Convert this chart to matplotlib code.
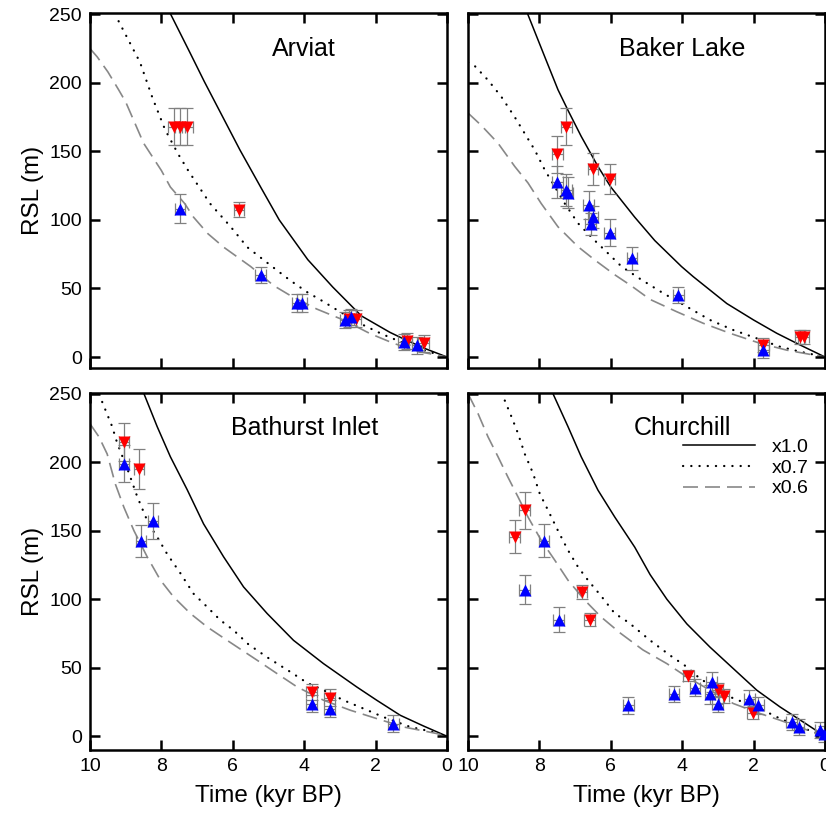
import matplotlib.pyplot as plt
import numpy as np

plt.rcParams['font.family'] = ['Liberation Sans', 'DejaVu Sans']

# ---------------- model curves: time (kyr BP), RSL (m) ----------------
# Arviat
arv_solid_t = [7.74, 7.2, 6.8, 6.3, 5.8, 5.2, 4.7, 3.9, 3.2, 2.4, 1.6, 1.2, 0.6, 0]
arv_solid_v = [250, 222, 201, 176, 151, 123, 100, 71, 51, 30, 18, 13, 6, 0]
arv_dot_t = [9.2, 8.6, 8.25, 7.9, 7.53, 7.25, 6.64, 6.06, 5.59, 4.9, 4.4, 3.9, 3.5, 3.0, 2.4, 1.8, 1.2, 0.6, 0]
arv_dot_v = [245, 215, 189, 166, 148, 136, 112, 95, 80, 66, 56, 47, 41, 33, 24, 16.5, 10, 4.5, 0]
arv_dash_t = [10, 9.8, 9.5, 9.2, 9.0, 8.7, 8.5, 8.0, 7.75, 7.35, 7.1, 6.7, 6.25, 5.5, 4.85, 4.4, 3.65, 2.9, 2.15, 1.5, 0.8, 0]
arv_dash_v = [225, 219, 208, 195, 186, 168, 156, 136, 124, 112, 102, 90, 80, 66, 52, 45, 35, 27, 17, 10, 4, 0]

# Baker Lake
bak_solid_t = [8.34, 7.85, 7.48, 7.2, 6.83, 6.36, 6.0, 5.33, 4.77, 4.02, 3.69, 2.75, 2.0, 1.35, 0.7, 0]
bak_solid_v = [251, 219, 195, 180, 161, 139, 124, 102, 85, 66, 58.6, 39, 27, 17.3, 8.8, 0]
bak_dot_t = [10, 9.8, 9.44, 9.07, 8.69, 8.41, 8.13, 7.85, 7.29, 6.92, 6.45, 6.08, 5.7, 5.18, 4.53, 3.87, 3.22, 2.57, 1.91, 1.26, 0.7, 0]
bak_dot_v = [215, 212, 202, 190, 175, 163, 151, 136.5, 112, 97.6, 85, 75.7, 66, 57, 46.5, 36.7, 27, 19.7, 13.6, 7.5, 3.9, 0]
bak_dash_t = [10, 9.63, 9.16, 8.69, 8.32, 7.95, 7.48, 6.92, 6.45, 5.89, 5.43, 4.9, 4.15, 3.41, 2.66, 1.82, 1.07, 0.33, 0]
bak_dash_v = [178, 169, 156, 139, 127, 112, 95, 80.5, 70.8, 60, 52, 42, 33, 24.6, 17.3, 10, 5, 1.5, 0]

# Bathurst Inlet
bat_solid_t = [8.49, 8.12, 7.75, 7.28, 6.82, 6.26, 5.7, 5.04, 4.3, 3.46, 2.53, 1.97, 1.31, 0.66, 0]
bat_solid_v = [250, 226, 204, 180, 155, 131, 109, 89.6, 70, 53, 36, 26.3, 15.3, 7.5, 0]
bat_dot_t = [9.66, 9.38, 9.24, 8.91, 8.68, 8.36, 8.12, 7.84, 7.47, 7.1, 6.72, 6.35, 5.98, 5.56, 5.0, 4.39, 3.92, 3.46, 2.9, 2.34, 1.78, 1.03, 0.38, 0]
bat_dot_v = [244, 226, 214, 192, 175, 155, 145.5, 133, 119, 104, 94.4, 84.7, 77.4, 67, 57, 47, 39, 33.6, 26.3, 20.2, 14, 6.8, 3.1, 0]
bat_dash_t = [10, 9.75, 9.52, 9.29, 9.05, 8.77, 8.4, 8.03, 7.66, 7.19, 6.72, 6.16, 5.32, 4.76, 4.2, 3.46, 2.71, 1.97, 1.22, 0.29, 0]
bat_dash_v = [228, 218.5, 206, 184, 167, 150, 131, 114, 101.7, 89.6, 79.8, 70, 55.5, 45.7, 36, 26.3, 19, 12.9, 6.8, 2, 0]

# Churchill
chu_solid_t = [7.62, 7.2, 6.83, 6.36, 5.89, 5.33, 4.9, 4.43, 3.87, 3.22, 2.57, 1.91, 1.26, 0.61, 0]
chu_solid_v = [250, 226, 204, 179.6, 160, 138, 118, 100, 82, 65, 49.4, 33.6, 21.4, 10.4, 0]
chu_dot_t = [8.97, 8.78, 8.6, 8.41, 8.18, 7.99, 7.76, 7.48, 7.2, 6.92, 6.64, 6.26, 5.89, 5.5, 4.9, 4.34, 3.87, 3.5, 2.66, 1.73, 1.26, 0.7, 0]
chu_dot_v = [245, 233, 221, 206, 192, 177, 165, 150, 135.8, 123.6, 113.9, 102, 89.6, 83, 70, 59, 50.6, 42, 28.7, 19, 12.9, 6.8, 0]
chu_dash_t = [10, 9.72, 9.44, 9.16, 8.88, 8.6, 8.32, 7.95, 7.57, 7.2, 6.73, 6.27, 5.72, 5.1, 4.43, 3.87, 3.22, 2.57, 1.82, 1.26, 0.61, 0]
chu_dash_v = [250, 235.5, 218.5, 204, 189, 174.7, 160, 143, 128.5, 113.9, 99.3, 87, 75, 63, 53, 43.3, 33.6, 23.9, 16.6, 11.7, 5.6, 0]

# ---------------- sea-level index points ----------------
arv_red_t = [7.66, 7.48, 7.27, 5.83, 2.75, 2.55, 1.12, 0.65]
arv_red_v = [168, 168, 168, 107.5, 28, 28, 11.5, 10]
arv_red_e = [13.5, 13.5, 13.5, 5.5, 6, 6, 6, 6]
arv_blue_t = [7.48, 5.22, 4.2, 4.06, 2.85, 2.7, 1.21, 0.84]
arv_blue_v = [108.3, 60, 39.5, 39.5, 27, 29, 11, 8.5]
arv_blue_e = [10.3, 6, 6.6, 6.6, 6, 6, 6, 6]

bak_red_t = [7.25, 7.5, 6.5, 6.03, 1.73, 0.7, 0.6]
bak_red_v = [168, 148, 137, 129.7, 8.8, 14.4, 14.4]
bak_red_e = [13.4, 13.4, 11.6, 11, 5, 5, 5]
bak_blue_t = [7.5, 7.25, 7.2, 6.62, 6.5, 6.56, 6.03, 5.41, 4.11, 1.73]
bak_blue_v = [127.5, 122, 120, 111, 102, 97, 90.7, 72, 45.3, 5]
bak_blue_e = [11.6, 11.6, 11.6, 10, 8, 8, 9.7, 8.5, 6, 6]

bat_red_t = [9.05, 8.63, 3.79, 3.29]
bat_red_v = [214.8, 194.7, 32.4, 28.2]
bat_red_e = [13.6, 14.6, 6, 6]
bat_blue_t = [9.05, 8.24, 8.57, 3.79, 3.29, 1.5]
bat_blue_v = [199, 157, 142.6, 23.9, 20.2, 9.3]
bat_blue_e = [13.4, 13, 11.7, 6, 6, 6]

chu_red_t = [8.41, 8.69, 6.81, 6.59, 3.83, 3.01, 2.83, 2.03]
chu_red_v = [165, 145.5, 105.3, 85.2, 44, 33.6, 29.2, 17.3]
chu_red_e = [13.4, 12, 5, 4.5, 4, 5, 5, 5]
chu_blue_t = [7.87, 8.41, 7.46, 5.51, 4.23, 3.64, 3.17, 3.22, 3.01, 2.12, 1.87, 0.93, 0.73, 0.14, 0.03]
chu_blue_v = [142.6, 107, 85.2, 22.6, 30.7, 35.5, 39.6, 30.7, 23.4, 27.5, 22.6, 10.4, 6.8, 4.4, 1.5]
chu_blue_e = [12, 10.6, 9, 6, 6, 6, 7, 7, 6, 6, 6, 6, 6, 6, 6]

t_err = 0.15

fig = plt.figure(figsize=(8.26, 8.15), dpi=100)

panels = [
    ('Arviat', [0.109, 0.5485, 0.4322, 0.4356], (-8, 251),
     (arv_solid_t, arv_solid_v, arv_dot_t, arv_dot_v, arv_dash_t, arv_dash_v),
     (arv_red_t, arv_red_v, arv_red_e), (arv_blue_t, arv_blue_v, arv_blue_e)),
    ('Baker Lake', [0.5666, 0.5485, 0.4322, 0.4356], (-8, 251),
     (bak_solid_t, bak_solid_v, bak_dot_t, bak_dot_v, bak_dash_t, bak_dash_v),
     (bak_red_t, bak_red_v, bak_red_e), (bak_blue_t, bak_blue_v, bak_blue_e)),
    ('Bathurst Inlet', [0.109, 0.0798, 0.4322, 0.438], (-10, 250.5),
     (bat_solid_t, bat_solid_v, bat_dot_t, bat_dot_v, bat_dash_t, bat_dash_v),
     (bat_red_t, bat_red_v, bat_red_e), (bat_blue_t, bat_blue_v, bat_blue_e)),
    ('Churchill', [0.5666, 0.0798, 0.4322, 0.438], (-10, 250.5),
     (chu_solid_t, chu_solid_v, chu_dot_t, chu_dot_v, chu_dash_t, chu_dash_v),
     (chu_red_t, chu_red_v, chu_red_e), (chu_blue_t, chu_blue_v, chu_blue_e)),
]

for i, (name, box, ylim, curves, red, blue) in enumerate(panels):
    ax = fig.add_axes(box)
    st, sv, dt, dv, ht, hv = curves
    ax.plot(st, sv, color='black', lw=1.1, label='x1.0', zorder=1)
    ax.plot(dt, dv, color='black', lw=1.6, linestyle=(0, (0.1, 3.6)),
            dash_capstyle='round', label='x0.7', zorder=1)
    ax.plot(ht, hv, color='#888888', lw=1.2, linestyle=(0, (9, 4.2)),
            label='x0.6', zorder=1)

    for (pt, pv, pe), col, mk in [(red, 'red', 'v'), (blue, 'blue', '^')]:
        ax.errorbar(pt, pv, xerr=t_err, yerr=pe, fmt='none', ecolor='#808080',
                    elinewidth=0.9, capsize=4.5, capthick=0.9, zorder=2)
        ax.plot(pt, pv, mk, color=col, ms=8.5, mec='none', zorder=3)

    ax.set_xlim(10, 0)
    ax.set_ylim(*ylim)
    ax.set_xticks([10, 8, 6, 4, 2, 0])
    ax.set_yticks([0, 50, 100, 150, 200, 250])
    ax.tick_params(direction='in', length=7.5, width=1.8, top=True, right=True,
                   labelsize=14, pad=6)
    for s in ax.spines.values():
        s.set_linewidth(1.8)

    if i % 2 == 0:
        ax.set_ylabel('RSL (m)', fontsize=17.5, labelpad=4)
    else:
        ax.tick_params(labelleft=False)
    if i < 2:
        ax.tick_params(labelbottom=False)
    else:
        ax.set_xlabel('Time (kyr BP)', fontsize=17.5, labelpad=7)

    ax.text(4.0, 225, name, fontsize=18, ha='center', va='center')

    if name == 'Churchill':
        ax.legend(loc='upper left', bbox_to_anchor=(0.602, 0.872),
                  frameon=False, fontsize=14, handlelength=3.7,
                  handletextpad=0.85, labelspacing=0.15, borderpad=0,
                  borderaxespad=0)

fig.savefig('out.png', dpi=100)
plt.close(fig)
